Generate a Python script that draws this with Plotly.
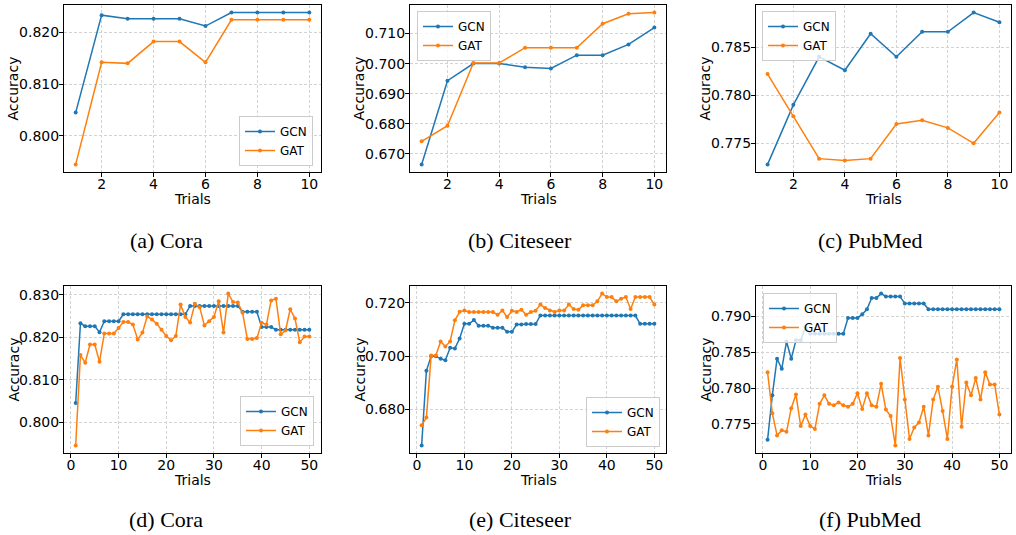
import plotly.graph_objects as go

W, H = 1016, 535

trials10 = list(range(1, 11))
trials50 = list(range(1, 51))

# (a) Cora, 10 trials
cora10_gcn = [0.8045, 0.8233, 0.8226, 0.8226, 0.8226, 0.8212, 0.8238, 0.8238, 0.8238, 0.8238]
cora10_gat = [0.7945, 0.8142, 0.8140, 0.8182, 0.8182, 0.8142, 0.8224, 0.8224, 0.8224, 0.8224]
# (b) Citeseer, 10 trials
cite10_gcn = [0.6664, 0.6943, 0.7000, 0.7000, 0.6988, 0.6984, 0.7028, 0.7028, 0.7064, 0.7120]
cite10_gat = [0.6741, 0.6793, 0.7002, 0.7002, 0.7053, 0.7053, 0.7053, 0.7133, 0.7166, 0.7170]
# (c) PubMed, 10 trials
pub10_gcn = [0.7728, 0.7790, 0.7840, 0.7826, 0.7864, 0.7840, 0.7866, 0.7866, 0.7886, 0.7876]
pub10_gat = [0.7822, 0.7778, 0.7734, 0.7732, 0.7734, 0.7770, 0.7774, 0.7766, 0.7750, 0.7782]

# (d) Cora, 50 trials
cora50_gcn = [0.8045, 0.8233, 0.8226, 0.8226, 0.8226, 0.8212, 0.8238, 0.8238, 0.8238, 0.8238,
              0.8254, 0.8254, 0.8254, 0.8254, 0.8254, 0.8254, 0.8254, 0.8254, 0.8254, 0.8254,
              0.8254, 0.8254, 0.8254, 0.8254, 0.8274, 0.8274, 0.8274, 0.8274, 0.8274, 0.8274,
              0.8274, 0.8274, 0.8274, 0.8274, 0.8274, 0.8260, 0.8260, 0.8260, 0.8260, 0.8224,
              0.8224, 0.8224, 0.8218, 0.8218, 0.8218, 0.8218, 0.8218, 0.8218, 0.8218, 0.8218]
cora50_gat = [0.7945, 0.8158, 0.8140, 0.8183, 0.8183, 0.8142, 0.8209, 0.8209, 0.8209, 0.8222,
              0.8236, 0.8236, 0.8230, 0.8195, 0.8211, 0.8249, 0.8242, 0.8232, 0.8218, 0.8203,
              0.8193, 0.8203, 0.8277, 0.8248, 0.8235, 0.8279, 0.8271, 0.8228, 0.8238, 0.8248,
              0.8285, 0.8211, 0.8303, 0.8283, 0.8282, 0.8258, 0.8196, 0.8196, 0.8198, 0.8234,
              0.8230, 0.8287, 0.8291, 0.8207, 0.8216, 0.8266, 0.8244, 0.8188, 0.8202, 0.8202]
# (e) Citeseer, 50 trials
cite50_gcn = [0.6666, 0.6945, 0.7000, 0.7000, 0.6990, 0.6985, 0.7031, 0.7029, 0.7066, 0.7121,
              0.7121, 0.7135, 0.7114, 0.7114, 0.7114, 0.7106, 0.7106, 0.7106, 0.7091, 0.7091,
              0.7118, 0.7118, 0.7120, 0.7120, 0.7120, 0.7152, 0.7152, 0.7152, 0.7152, 0.7152,
              0.7152, 0.7152, 0.7152, 0.7152, 0.7152, 0.7152, 0.7152, 0.7152, 0.7152, 0.7152,
              0.7152, 0.7152, 0.7152, 0.7152, 0.7152, 0.7152, 0.7121, 0.7121, 0.7121, 0.7121]
cite50_gat = [0.6741, 0.6770, 0.7002, 0.7002, 0.7055, 0.7036, 0.7055, 0.7134, 0.7166, 0.7171,
              0.7165, 0.7165, 0.7165, 0.7165, 0.7165, 0.7165, 0.7155, 0.7171, 0.7146, 0.7170,
              0.7165, 0.7174, 0.7155, 0.7165, 0.7170, 0.7193, 0.7180, 0.7171, 0.7165, 0.7171,
              0.7171, 0.7193, 0.7176, 0.7174, 0.7190, 0.7190, 0.7190, 0.7205, 0.7234, 0.7221,
              0.7221, 0.7205, 0.7215, 0.7221, 0.7176, 0.7221, 0.7221, 0.7221, 0.7221, 0.7193]
# (f) PubMed, 50 trials
pub50_gcn = [0.7728, 0.7790, 0.7841, 0.7827, 0.7865, 0.7841, 0.7867, 0.7867, 0.7885, 0.7876,
             0.7876, 0.7876, 0.7876, 0.7876, 0.7876, 0.7876, 0.7876, 0.7898, 0.7898, 0.7898,
             0.7903, 0.7910, 0.7926, 0.7926, 0.7932, 0.7928, 0.7928, 0.7928, 0.7928, 0.7918,
             0.7918, 0.7918, 0.7918, 0.7918, 0.7910, 0.7910, 0.7910, 0.7910, 0.7910, 0.7910,
             0.7910, 0.7910, 0.7910, 0.7910, 0.7910, 0.7910, 0.7910, 0.7910, 0.7910, 0.7910]
pub50_gat = [0.7822, 0.7765, 0.7734, 0.7741, 0.7739, 0.7772, 0.7791, 0.7747, 0.7763, 0.7747,
             0.7743, 0.7778, 0.7790, 0.7778, 0.7776, 0.7780, 0.7776, 0.7774, 0.7778, 0.7793,
             0.7771, 0.7793, 0.7776, 0.7774, 0.7806, 0.7770, 0.7761, 0.7720, 0.7842, 0.7784,
             0.7729, 0.7745, 0.7752, 0.7774, 0.7734, 0.7784, 0.7802, 0.7768, 0.7729, 0.7802,
             0.7840, 0.7746, 0.7808, 0.7790, 0.7814, 0.7784, 0.7822, 0.7805, 0.7805, 0.7763]

captions = ["(a) Cora", "(b) Citeseer", "(c) PubMed", "(d) Cora", "(e) Citeseer", "(f) PubMed"]
series_names = ["GCN", "GAT"]
colors = ["#1f77b4", "#ff7f0e"]

panels = [
    (trials10, cora10_gcn, cora10_gat, 2, 2, 0.01, 0.8),
    (trials10, cite10_gcn, cite10_gat, 2, 2, 0.01, 0.67),
    (trials10, pub10_gcn, pub10_gat, 2, 2, 0.005, 0.775),
    (trials50, cora50_gcn, cora50_gat, 10, 0, 0.01, 0.8),
    (trials50, cite50_gcn, cite50_gat, 10, 0, 0.02, 0.68),
    (trials50, pub50_gcn, pub50_gat, 10, 0, 0.005, 0.775),
]

# layout in pixels
cols_px = [(64, 321), (410, 666), (756, 1011)]
rows_px = [(5, 172), (286, 453)]
caption_x = [166, 520, 870]
caption_y = [240, 519]
trials_y = [199, 480]
# legend placement: (x_px, y_px, xanchor, yanchor)
legend_pos = [
    (313, 166, "right", "bottom"),
    (417, 11, "left", "top"),
    (762, 11, "left", "top"),
    (314, 446, "right", "bottom"),
    (660, 447, "right", "bottom"),
    (763, 293, "left", "top"),
]


def px_x(v):
    return v / W


def px_y(v):
    return 1 - v / H


def padded(vals):
    lo, hi = min(vals), max(vals)
    m = (hi - lo) * 0.05
    return [lo - m, hi + m]


fig = go.Figure()
annotations = []
layout_upd = {}
tick_font = dict(family="DejaVu Sans", size=14, color="black")

for i, (xs, gcn, gat, xd, x0, yd, y0) in enumerate(panels):
    r, c = divmod(i, 3)
    n = i + 1
    xa = "x" if n == 1 else f"x{n}"
    ya = "y" if n == 1 else f"y{n}"
    leg = "legend" if n == 1 else f"legend{n}"
    for name, vals, col in zip(series_names, [gcn, gat], colors):
        fig.add_trace(go.Scatter(
            x=xs, y=vals, name=name, mode="lines+markers",
            line=dict(color=col, width=1.5),
            marker=dict(color=col, size=4),
            xaxis=xa, yaxis=ya, legend=leg, showlegend=True,
        ))
    (cl, cr) = cols_px[c]
    (rt, rb) = rows_px[r]
    common = dict(
        showline=True, mirror=True, linecolor="black", linewidth=1,
        ticks="outside", ticklen=4, tickcolor="black", tickwidth=1,
        showgrid=True, gridcolor="#d3d3d3", gridwidth=0.8, griddash="3px,2px",
        zeroline=False, tickfont=tick_font,
    )
    layout_upd["xaxis" if n == 1 else f"xaxis{n}"] = dict(
        domain=[px_x(cl), px_x(cr)], anchor=ya, ticklabelstandoff=-5,
        range=padded(xs), tick0=x0, dtick=xd, **common)
    layout_upd["yaxis" if n == 1 else f"yaxis{n}"] = dict(
        domain=[px_y(rb), px_y(rt)], anchor=xa, ticklabelstandoff=-3,
        range=padded(gcn + gat), tick0=y0, dtick=yd, tickformat=".3f", **common)
    lx, ly, xan, yan = legend_pos[i]
    layout_upd[leg] = dict(
        x=px_x(lx), y=px_y(ly), xanchor=xan, yanchor=yan,
        xref="paper", yref="paper",
        bgcolor="rgba(255,255,255,0.8)", bordercolor="#cccccc", borderwidth=1,
        font=dict(family="DejaVu Sans", size=12, color="black"),
        itemwidth=30, tracegroupgap=0,
    )
    # axis titles
    annotations.append(dict(
        text="Trials", x=px_x((cl + cr) / 2), y=px_y(trials_y[r]),
        xref="paper", yref="paper", showarrow=False, xanchor="center", yanchor="middle",
        font=dict(family="DejaVu Sans", size=14, color="black")))
    annotations.append(dict(
        text="Accuracy", x=px_x(cl - 51), y=px_y((rt + rb) / 2),
        xref="paper", yref="paper", showarrow=False, xanchor="center", yanchor="middle",
        textangle=-90, font=dict(family="DejaVu Sans", size=14, color="black")))
    annotations.append(dict(
        text=captions[i], x=px_x(caption_x[c]), y=px_y(caption_y[r]),
        xref="paper", yref="paper", showarrow=False, xanchor="center", yanchor="middle",
        font=dict(family="Liberation Serif", size=22, color="black")))

fig.update_layout(
    width=W, height=H, margin=dict(l=0, r=0, t=0, b=0),
    paper_bgcolor="white", plot_bgcolor="white",
    annotations=annotations, **layout_upd,
)

fig.write_html("out.html", config={"displayModeBar": False},
               post_script="document.body.style.margin='0px';")
